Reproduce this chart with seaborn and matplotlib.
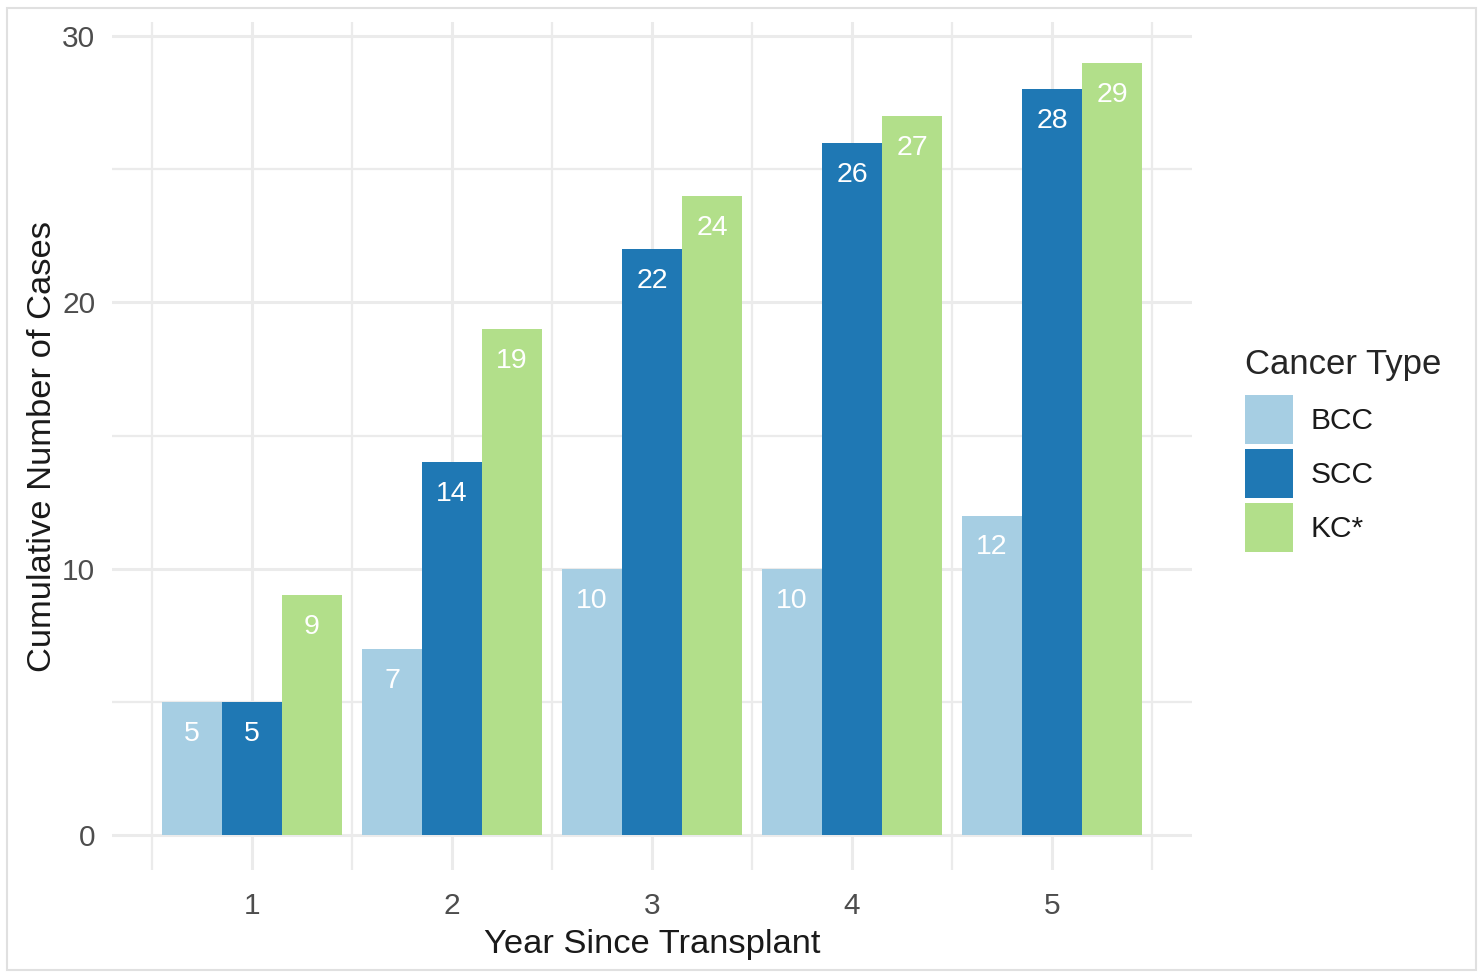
import matplotlib
matplotlib.use("Agg")
import matplotlib.pyplot as plt
import seaborn as sns
import pandas as pd
import numpy as np
from matplotlib.patches import Rectangle

years = ["1", "2", "3", "4", "5"]
cancer_types = ["BCC", "SCC", "KC*"]
bcc = [5, 7, 10, 10, 12]
scc = [5, 14, 22, 26, 28]
kc = [9, 19, 24, 27, 29]
colors = ["#A6CEE3", "#1F78B4", "#B2DF8A"]

df = pd.DataFrame({
    "Year": years * 3,
    "Cancer Type": [cancer_types[0]] * 5 + [cancer_types[1]] * 5 + [cancer_types[2]] * 5,
    "Cases": bcc + scc + kc,
})

sns.set_theme(style="whitegrid")
plt.rcParams["font.family"] = ["Liberation Sans", "DejaVu Sans"]

fig = plt.figure(figsize=(14.84, 9.75), dpi=100)
ax = fig.add_axes([112 / 1484, 105 / 975, 1080 / 1484, 848 / 975])

sns.barplot(data=df, x="Year", y="Cases", hue="Cancer Type", order=years,
            hue_order=cancer_types, palette=colors, width=0.9, saturation=1,
            ax=ax, zorder=3, edgecolor="none", linewidth=0)

for cont in ax.containers:
    for p in cont:
        h = p.get_height()
        ax.annotate(f"{int(round(h))}", (p.get_x() + p.get_width() / 2, h),
                    xytext=(0, -23), textcoords="offset points",
                    ha="center", va="center", color="white", fontsize=20.5, zorder=4)

ax.set_xlim(-0.7, 4.7)
ax.set_ylim(-1.31, 30.53)
ax.set_yticks([0, 10, 20, 30])
ax.set_yticks([5, 15, 25], minor=True)
ax.set_xticks(np.arange(-0.5, 5.0, 1.0), minor=True)
ax.grid(True, which="major", color="#EBEBEB", linewidth=2.2, zorder=0)
ax.grid(True, which="minor", color="#EBEBEB", linewidth=1.6, zorder=0)
ax.set_axisbelow(True)
for s in ax.spines.values():
    s.set_visible(False)
ax.tick_params(axis="both", which="both", length=0, labelsize=21.5, labelcolor="#4D4D4D")
ax.tick_params(axis="x", pad=16)
ax.tick_params(axis="y", pad=12)
ax.set_xlabel("Year Since Transplant", fontsize=24.8, color="#1A1A1A", labelpad=6)
ax.set_ylabel("Cumulative Number of Cases", fontsize=24.8, color="#1A1A1A", labelpad=3)

leg = ax.legend(title="Cancer Type", loc="upper left", bbox_to_anchor=(1.049, 0.616),
                frameon=False, fontsize=21.5, title_fontsize=25, handlelength=1.6,
                handleheight=2.15, handletextpad=0.6, labelspacing=0.17,
                borderaxespad=0, borderpad=0)
leg._legend_box.align = "left"
leg._legend_box.sep = 10.2
for t in leg.get_texts():
    t.set_color("#1A1A1A")

fig.patches.append(Rectangle((7 / 1484, 5 / 975), 1469 / 1484, 962 / 975,
                             transform=fig.transFigure, fill=False,
                             edgecolor="#E0E0E0", linewidth=1.5))

fig.savefig("out.png", dpi=100, facecolor="white")
